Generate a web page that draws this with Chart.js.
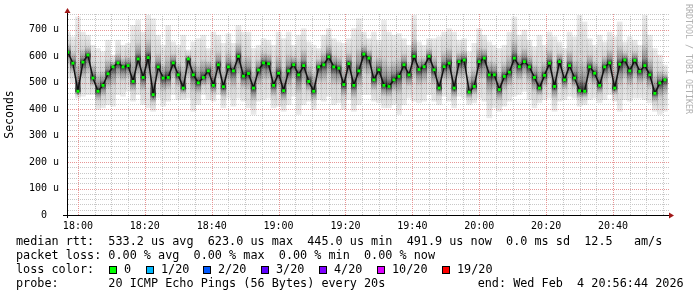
<!DOCTYPE html>
<html><head><meta charset="utf-8">
<script src="https://cdn.jsdelivr.net/npm/chart.js@4.4.1/dist/chart.umd.min.js"></script>
<style>
html,body{margin:0;padding:0;background:#fff;}
#wrap{position:relative;width:697px;height:297px;overflow:hidden;background:#fff;}
canvas{position:absolute;left:0;top:0;}
.txt{position:absolute;left:16px;font-family:"DejaVu Sans Mono",monospace;font-size:11.8px;line-height:14px;white-space:pre;color:#000;}
.sq{position:absolute;top:266px;width:8px;height:8px;box-sizing:border-box;border:1px solid #000;}
.lab{position:absolute;top:262px;font-family:"DejaVu Sans Mono",monospace;font-size:11.8px;line-height:14px;white-space:pre;color:#000;}
#wm{position:absolute;left:684px;top:4px;writing-mode:vertical-rl;font-family:"DejaVu Sans Mono",monospace;font-size:8.3px;line-height:10px;color:#b0b0b0;white-space:pre;}
</style></head>
<body>
<div id="wrap">
<canvas id="c" width="697" height="297"></canvas>
<div id="wm">RRDTOOL / TOBI OETIKER</div>
<div class="txt" style="top:234px">median rtt:  533.2 us avg  623.0 us max  445.0 us min  491.9 us now  0.0 ms sd  12.5   am/s</div>
<div class="txt" style="top:248px">packet loss: 0.00 % avg  0.00 % max  0.00 % min  0.00 % now</div>
<div class="txt" style="top:262px">loss color:</div>
<div id="lossLegend"></div>
<div class="txt" style="top:276px">probe:       20 ICMP Echo Pings (56 Bytes) every 20s             end: Wed Feb  4 20:56:44 2026</div>
</div>
<script>
// ---- data (microseconds), one sample every 1.5 min starting 17:57 ----
const startMinute = -3;      // minutes relative to 18:00
const stepMinute = 1.5;
const medianRtt = [615,574,468,578,605,518,468,490,534,560,575,560,565,505,590,520,595,455,560,518,520,575,530,480,590,530,500,520,545,490,568,
485,560,545,600,525,535,480,548,575,572,490,536,470,545,568,530,565,505,468,560,568,598,560,555,493,572,490,545,608,593,
511,549,490,486,511,524,568,530,600,550,561,600,549,480,561,574,480,580,586,465,486,580,593,530,530,474,524,540,593,561,
580,560,520,480,528,574,486,580,511,565,518,470,468,560,536,490,560,575,480,570,586,545,585,543,565,530,460,499,511];
const maxPing = [692,674,749,692,680,642,630,617,661,605,661,642,649,717,736,692,755,742,680,642,717,655,642,680,624,655,667,680,630,692,680,
649,686,649,717,692,692,630,642,667,661,642,692,667,692,642,680,705,655,642,630,680,705,667,655,649,667,705,742,692,667,
692,661,736,692,680,686,667,642,755,655,642,667,667,674,692,705,692,661,667,617,649,705,680,655,642,630,642,692,749,680,
699,661,636,680,642,692,674,655,630,692,674,755,730,667,642,680,655,692,674,730,655,674,661,642,755,680,630,605,567];
const minPing = [517,499,442,449,455,455,399,405,417,411,455,449,467,430,455,417,405,392,442,411,430,455,436,436,442,392,417,455,436,430,455,
405,442,411,442,430,405,380,430,436,442,405,411,392,417,449,380,417,430,399,436,430,449,417,424,399,436,392,417,455,455,
430,424,405,405,417,380,417,442,430,424,430,455,430,417,449,430,405,449,442,417,424,442,430,367,405,392,411,430,449,455,
467,436,405,424,436,442,392,430,436,449,442,411,417,436,442,424,436,455,430,392,436,430,442,442,436,424,392,380,392];

const xTickLabels = ['18:00','18:20','18:40','19:00','19:20','19:40','20:00','20:20','20:40'];
const yTickLabels = ['0  ','100 u','200 u','300 u','400 u','500 u','600 u','700 u'];
const lossLabels = ['0','1/20','2/20','3/20','4/20','10/20','19/20'];
const lossColors = ['#00ff00','#00b8ff','#0059ff','#5e00ff','#7e00ff','#dd00ff','#ff0000'];

// loss legend
const sqX = [109,146,203,261,319,377,442];
const ll = document.getElementById('lossLegend');
lossLabels.forEach((t,i)=>{
  const s=document.createElement('div'); s.className='sq'; s.style.left=sqX[i]+'px'; s.style.background=lossColors[i]; ll.appendChild(s);
  const l=document.createElement('div'); l.className='lab'; l.style.left=(sqX[i]+15)+'px'; l.textContent=t; ll.appendChild(l);
});

const tOf = i => startMinute + i*stepMinute;
const pts = arr => arr.map((v,i)=>({x: tOf(i), y: v}));
const smoke = minPing.map((v,i)=>({x: tOf(i), y: [v, maxPing[i]]}));
const MONO = '"DejaVu Sans Mono", monospace';
const MINOR = 'rgb(200,200,200)', MAJOR = 'rgb(232,150,150)';

function smokeColor(c){
  const chart = c.chart, ys = chart.scales && chart.scales.y;
  if (!ys || !chart.chartArea || c.dataIndex === undefined) return 'rgba(0,0,0,0.2)';
  const i = c.dataIndex;
  const yTop = ys.getPixelForValue(maxPing[i]), yBot = ys.getPixelForValue(minPing[i]);
  const yMed = ys.getPixelForValue(medianRtt[i]);
  if (!isFinite(yTop) || !isFinite(yBot) || yBot - yTop < 1) return 'rgba(0,0,0,0.2)';
  const p = Math.min(0.98, Math.max(0.02, (yMed - yTop)/(yBot - yTop)));
  const g = chart.ctx.createLinearGradient(0, yTop, 0, yBot);
  g.addColorStop(0, 'rgba(0,0,0,0.08)');
  g.addColorStop(p*0.55, 'rgba(0,0,0,0.17)');
  g.addColorStop(p*0.85, 'rgba(0,0,0,0.42)');
  g.addColorStop(p, 'rgba(0,0,0,0.80)');
  g.addColorStop(p + (1-p)*0.2, 'rgba(0,0,0,0.42)');
  g.addColorStop(p + (1-p)*0.5, 'rgba(0,0,0,0.17)');
  g.addColorStop(1, 'rgba(0,0,0,0.08)');
  return g;
}

const gridPlugin = {
  id:'dotGrid',
  beforeDatasetsDraw(chart){
    const {ctx, chartArea:{left,right,top,bottom}, scales:{x,y}} = chart;
    ctx.save();
    const L = Math.round(left), R = Math.round(right), T = Math.round(top), B = Math.round(bottom);
    for (const major of [false, true]) {
      ctx.fillStyle = major ? MAJOR : MINOR;
      y.ticks.forEach(t=>{
        if ((t.value%100===0) !== major || t.value===0) return;
        const py = Math.round(y.getPixelForValue(t.value));
        for (let px=L+1; px<=R; px+=2) ctx.fillRect(px, py, 1, 1);
      });
      x.ticks.forEach(t=>{
        const r = Math.round(t.value);
        if ((r%20===0) !== major) return;
        const px = Math.round(x.getPixelForValue(t.value));
        for (let py=T; py<B; py+=2) ctx.fillRect(px, py, 1, 1);
      });
    }
    ctx.restore();
  },
  afterDatasetsDraw(chart){
    const {ctx, chartArea:{left,right,top,bottom}} = chart;
    const xb = Math.round(bottom)+0.5, xl = Math.round(left)+0.5;
    ctx.save();
    ctx.strokeStyle='#000'; ctx.lineWidth=1; ctx.setLineDash([]);
    ctx.beginPath(); ctx.moveTo(left-4, xb); ctx.lineTo(right+2, xb); ctx.stroke();
    ctx.beginPath(); ctx.moveTo(xl, bottom+3); ctx.lineTo(xl, top-2); ctx.stroke();
    ctx.fillStyle='#a01818';
    ctx.beginPath(); ctx.moveTo(xl-3, top-1); ctx.lineTo(xl+3, top-1); ctx.lineTo(xl, top-6); ctx.closePath(); ctx.fill();
    ctx.beginPath(); ctx.moveTo(right, xb-3); ctx.lineTo(right, xb+3); ctx.lineTo(right+5, xb); ctx.closePath(); ctx.fill();
    ctx.restore();
  }
};

new Chart(document.getElementById('c'), {
  type:'line',
  data:{ datasets:[
    {type:'bar', label:'smoke', data:smoke, backgroundColor:smokeColor, borderWidth:0, barPercentage:1.0, categoryPercentage:1.0, order:6},
    {label:'core', data:pts(medianRtt), borderWidth:1.5, borderColor:'#111111', pointRadius:0, fill:false, order:3},
    {label:'median', data:pts(medianRtt), showLine:false, pointStyle:'rect', pointRadius:2, pointBorderWidth:0, pointBackgroundColor:'#00ff00', order:1}
  ]},
  options:{
    responsive:false, animation:false, devicePixelRatio:1,
    layout:{padding:{left:0,right:28,top:12,bottom:62}},
    plugins:{legend:{display:false}, tooltip:{enabled:false}},
    elements:{line:{tension:0}},
    scales:{
      x:{type:'linear', min:-3.2667, max:176.7333, offset:false,
        afterFit:s=>{s.height=20;},
        afterBuildTicks:s=>{ const t=[]; for(let v=0; v<=175; v+=5) t.push({value:v}); s.ticks=t; },
        ticks:{autoSkip:false, maxRotation:0, padding:5, color:'#000', font:{family:MONO,size:10},
          callback:v=>{const r=Math.round(v); return (r>=0 && r%20===0)? xTickLabels[r/20] : '';}},
        grid:{display:false, drawTicks:false},
        border:{display:false}
      },
      y:{type:'linear', min:0, max:760,
        afterFit:s=>{s.width=67;},
        ticks:{stepSize:20, autoSkip:false, padding:8, color:'#000', font:{family:MONO,size:10},
          callback:v=>(v%100===0 && v<=700)? yTickLabels[v/100] : ''},
        grid:{display:false, drawTicks:false},
        border:{display:false},
        title:{display:true, text:'Seconds', color:'#000', font:{family:MONO,size:11.5}, padding:{top:3,bottom:0}}
      }
    }
  },
  plugins:[gridPlugin]
});
</script>
</body></html>
